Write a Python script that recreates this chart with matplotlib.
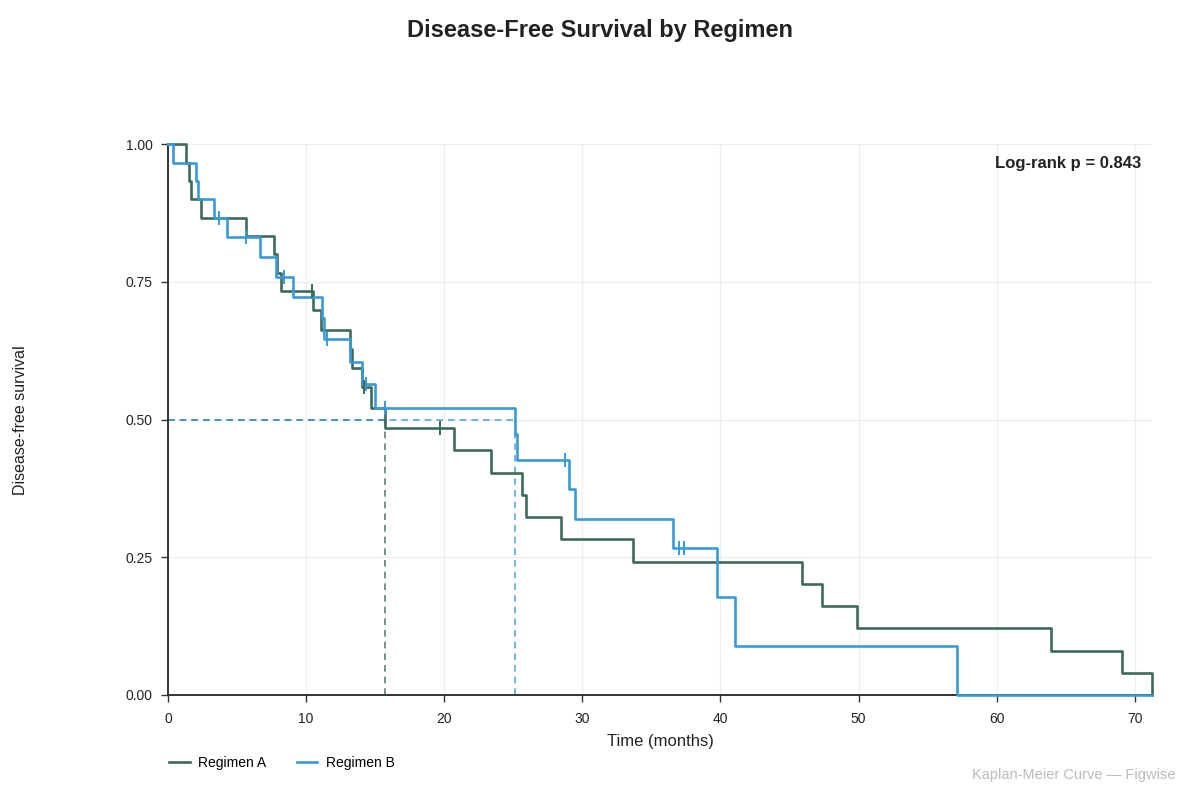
import numpy as np
import matplotlib
matplotlib.use('Agg')
import matplotlib.pyplot as plt

plt.rcParams['font.family'] = ['Liberation Sans', 'DejaVu Sans']

# follow-up times (months) and event flags (1 = event, 0 = censored)
time_a = [1.33, 1.55, 1.7, 2.38, 5.67, 7.65, 7.89, 8.18, 10.4, 10.47,
          11.1, 13.2, 13.3, 14.04, 14.17, 14.7, 15.73, 19.72, 20.73, 23.41,
          25.65, 25.9, 28.46, 33.64, 45.9, 47.35, 49.9, 63.96, 69.05, 71.25]
event_a = [1, 1, 1, 1, 1, 1, 1, 1, 0, 1,
           1, 1, 1, 1, 0, 1, 1, 0, 1, 1,
           1, 1, 1, 1, 1, 1, 1, 1, 1, 1]

time_b = [0.36, 2.02, 2.2, 3.35, 3.72, 4.27, 5.67, 6.68, 7.84, 8.37,
          9.03, 11.15, 11.27, 11.51, 13.2, 14.04, 14.36, 15.01, 15.73, 25.15,
          25.3, 28.77, 29.06, 29.44, 36.57, 37.02, 37.33, 39.75, 41.03, 57.15]
event_b = [1, 1, 1, 1, 0, 1, 0, 1, 1, 0,
           1, 1, 1, 0, 1, 1, 0, 1, 0, 1,
           1, 0, 1, 1, 1, 0, 0, 1, 1, 1]

groups = ['Regimen A', 'Regimen B']
colors = ['#3d6b57', '#3a9ad9']
p_value = 0.843


def kaplan_meier(t, e):
    t = np.asarray(t, float)
    e = np.asarray(e, int)
    order = np.argsort(t)
    t, e = t[order], e[order]
    xs, ys = [0.0], [1.0]
    s = 1.0
    at_risk = len(t)
    cens_x, cens_y = [], []
    for ti, ei in zip(t, e):
        if ei == 1:
            s = s * (at_risk - 1) / at_risk
            xs.append(ti)
            ys.append(s)
        else:
            cens_x.append(ti)
            cens_y.append(s)
        at_risk -= 1
    return np.array(xs), np.array(ys), cens_x, cens_y


fig = plt.figure(figsize=(12, 7.92), dpi=100)
ax = fig.add_axes([0.14, 0.1225, 0.82, 0.6955])

t_max = max(max(time_a), max(time_b))
for t, e, name, c in zip([time_a, time_b], [event_a, event_b], groups, colors):
    xs, ys, cx, cy = kaplan_meier(t, e)
    xs = np.append(xs, t_max)
    ys = np.append(ys, ys[-1])
    ax.plot(xs, ys, drawstyle='steps-post', color=c, lw=1.9, label=name,
            clip_on=False, zorder=3)
    ax.plot(cx, cy, ls='none', marker='|', ms=10, mew=1.4, color=c, zorder=4)
    # median survival guide lines
    med = xs[np.argmax(ys <= 0.5)]
    ax.plot([0, med], [0.5, 0.5], ls=(0, (4, 3)), lw=1.2, color=c, alpha=0.85, zorder=2)
    ax.plot([med, med], [0, 0.5], ls=(0, (4, 3)), lw=1.2, color=c, alpha=0.85, zorder=2)

ax.set_xlim(0, t_max)
ax.set_ylim(0, 1.0)
ax.set_xticks(np.arange(0, 71, 10))
ax.set_yticks([0, 0.25, 0.5, 0.75, 1.0])
ax.set_yticklabels(['0.00', '0.25', '0.50', '0.75', '1.00'])
ax.grid(True, color='#eeeeee', lw=0.9)
ax.set_axisbelow(True)
for side in ['top', 'right']:
    ax.spines[side].set_visible(False)
for side in ['left', 'bottom']:
    ax.spines[side].set_color('#333333')
    ax.spines[side].set_linewidth(1.4)
ax.tick_params(axis='both', labelsize=10, colors='#333333', length=5, width=1)
ax.tick_params(axis='x', pad=7)
ax.tick_params(axis='y', pad=6)
ax.tick_params(axis='both', labelcolor='#222222')

ax.set_xlabel('Time (months)', fontsize=12, color='#222222', labelpad=6)
fig.text(0.011, 0.47, 'Disease-free survival', rotation=90, fontsize=11.5,
         color='#222222', ha='left', va='center')

ax.text(0.989, 0.965, 'Log-rank p = %.3f' % p_value, transform=ax.transAxes,
        ha='right', va='center', fontsize=12, fontweight='bold', color='#222222')

fig.suptitle('Disease-Free Survival by Regimen', x=0.5, y=0.976, fontsize=17,
             fontweight='bold', color='#222222')

ax.legend(loc='upper left', bbox_to_anchor=(-0.012, -0.088), ncol=2, frameon=False,
          fontsize=10, handlelength=1.5, columnspacing=2.2, handletextpad=0.6)

fig.text(0.98, 0.022, 'Kaplan-Meier Curve \u2014 Figwise', ha='right', va='center',
         fontsize=10.5, color='#bbbbbb')

plt.savefig('out.png', dpi=100)
